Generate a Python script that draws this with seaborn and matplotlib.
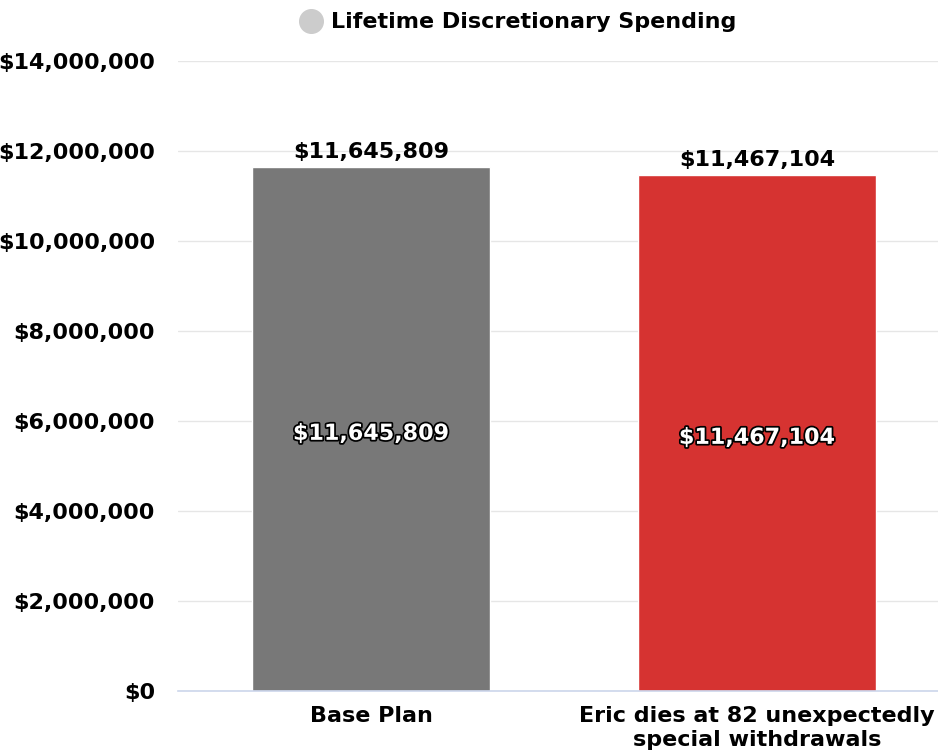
import matplotlib
matplotlib.use("Agg")
import matplotlib.pyplot as plt
import matplotlib.patheffects as pe
from matplotlib.lines import Line2D
from matplotlib.ticker import FuncFormatter
import seaborn as sns
import pandas as pd

categories = ["Base Plan", "Eric dies at 82 unexpectedly\nspecial withdrawals"]
values = [11645809, 11467104]
bar_colors = ["#787878", "#d63331"]
y_ticks = [0, 2000000, 4000000, 6000000, 8000000, 10000000, 12000000, 14000000]
series_name = "Lifetime Discretionary Spending"

sns.set_theme(style="white")
plt.rcParams["font.family"] = ["DejaVu Sans"]
plt.rcParams["font.sans-serif"] = ["DejaVu Sans"]
FONT = "DejaVu Sans"
FS = 16

df = pd.DataFrame({"scenario": categories, "spending": values})

fig = plt.figure(figsize=(9.38, 7.56), dpi=100)
ax = fig.add_axes([178 / 938, 65 / 756, 772 / 938, 630 / 756])

sns.barplot(data=df, x="scenario", y="spending", hue="scenario",
            palette=bar_colors, width=0.617, saturation=1, legend=False, ax=ax)

ax.set_xlim(-0.5, 1.5)
ax.set_ylim(0, 14000000)
ax.set_yticks(y_ticks)
ax.yaxis.set_major_formatter(FuncFormatter(lambda v, p: f"${v:,.0f}"))
ax.grid(axis="y", color="#e6e6e6", linewidth=1)
ax.set_axisbelow(True)
for s in ["top", "right", "left"]:
    ax.spines[s].set_visible(False)
ax.spines["bottom"].set_color("#ccd6eb")
ax.spines["bottom"].set_linewidth(1.2)
ax.tick_params(axis="y", length=0, pad=16.5)
ax.tick_params(axis="x", length=0, pad=10.5)
for lab in ax.get_yticklabels() + ax.get_xticklabels():
    lab.set_fontweight("bold")
    lab.set_fontfamily(FONT)
    lab.set_fontsize(FS)
    lab.set_color("#000000")
    lab.set_linespacing(1.3)
ax.set_xlabel("")
ax.set_ylabel("")

for i, v in enumerate(values):
    txt = f"${v:,.0f}"
    ax.annotate(txt, (i, v), xytext=(0, 3.5), textcoords="offset points",
                ha="center", va="bottom", fontsize=FS, fontweight="bold",
                fontfamily=FONT, color="#000000")
    ax.annotate(txt, (i, v / 2), xytext=(0, -3.5), textcoords="offset points",
                ha="center", va="center", fontsize=FS,
                fontweight="bold", fontfamily=FONT, color="white",
                path_effects=[pe.withStroke(linewidth=2.5, foreground="black")])

# series legend shown as a title row
fig.add_artist(Line2D([311 / 938], [1 - 21 / 756], marker="o", markersize=17,
                      color="#cccccc", linestyle="none",
                      transform=fig.transFigure))
fig.text(331 / 938, 1 - 22 / 756, series_name,
         fontsize=FS, fontweight="bold", fontfamily=FONT, color="#000000",
         ha="left", va="center")

fig.savefig("out.png", dpi=100)
